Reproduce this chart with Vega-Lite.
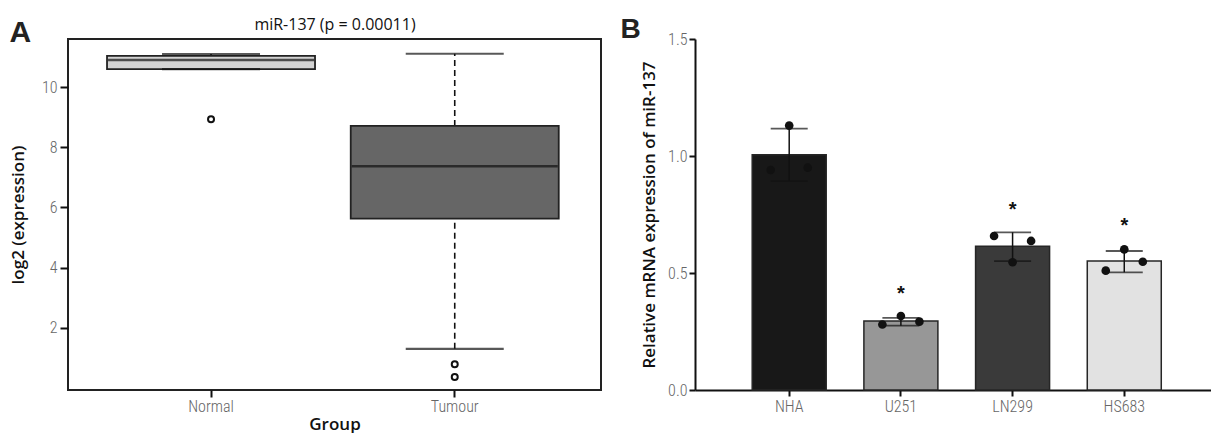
{
  "$schema": "https://vega.github.io/schema/vega-lite/v6.json",
  "padding": {"left": 8, "top": 15, "right": 0, "bottom": 0},
  "bounds": "flush",
  "spacing": 94,
  "resolve": {"scale": {"color": "independent"}},
  "config": {
    "font": "Open Sans",
    "view": {"stroke": "#222", "strokeWidth": 2},
    "axis": {
      "grid": false,
      "labelFont": "Liberation Sans Narrow, Roboto Condensed, Roboto",
      "labelColor": "#666",
      "labelFontSize": 16,
      "labelFontWeight": 300,
      "tickColor": "#111",
      "tickWidth": 2,
      "domainColor": "#111",
      "domainWidth": 2,
      "titleFont": "Open Sans",
      "titleFontWeight": 600,
      "titleFontSize": 17,
      "titleColor": "#111"
    }
  },
  "datasets": {
    "boxes": [
      {"group": "Normal", "lower": 10.6, "q1": 10.6, "median": 10.9, "q3": 11.04, "upper": 11.1},
      {"group": "Tumour", "lower": 1.3, "q1": 5.63, "median": 7.37, "q3": 8.71, "upper": 11.11}
    ],
    "outliers": [
      {"group": "Normal", "value": 8.93},
      {"group": "Tumour", "value": 0.79},
      {"group": "Tumour", "value": 0.36}
    ],
    "bars": [
      {"line": "NHA", "mean": 1.005, "lo": 0.893, "hi": 1.117},
      {"line": "U251", "mean": 0.295, "lo": 0.275, "hi": 0.308},
      {"line": "LN299", "mean": 0.614, "lo": 0.551, "hi": 0.674},
      {"line": "HS683", "mean": 0.551, "lo": 0.503, "hi": 0.594}
    ],
    "dots": [
      {"line": "NHA", "rep": 1, "value": 0.94},
      {"line": "NHA", "rep": 2, "value": 1.13},
      {"line": "NHA", "rep": 3, "value": 0.95},
      {"line": "U251", "rep": 1, "value": 0.28},
      {"line": "U251", "rep": 2, "value": 0.316},
      {"line": "U251", "rep": 3, "value": 0.292},
      {"line": "LN299", "rep": 1, "value": 0.658},
      {"line": "LN299", "rep": 2, "value": 0.546},
      {"line": "LN299", "rep": 3, "value": 0.637},
      {"line": "HS683", "rep": 1, "value": 0.51},
      {"line": "HS683", "rep": 2, "value": 0.601},
      {"line": "HS683", "rep": 3, "value": 0.548}
    ],
    "stars": [
      {"line": "U251", "pos": 0.41},
      {"line": "LN299", "pos": 0.77},
      {"line": "HS683", "pos": 0.70}
    ]
  },
  "hconcat": [
    {
      "width": 533,
      "height": 351,
      "title": {"text": "A", "anchor": "start", "frame": "bounds", "font": "Liberation Sans", "fontSize": 30, "fontWeight": "bold", "color": "#222", "offset": -32},
      "resolve": {"axis": {"x": "independent"}},
      "layer": [
        {
          "data": {"name": "boxes"},
          "mark": {"type": "rule", "stroke": "#111", "strokeWidth": 1.6, "strokeDash": [6, 4]},
          "encoding": {
            "x": {"field": "group", "type": "nominal", "sort": null,
                  "scale": {"type": "band", "paddingInner": 0.145, "paddingOuter": 0.166, "align": 0.48},
                  "axis": {"title": "Group", "domain": false, "tickSize": 7, "labelAngle": 0, "labelPadding": 1, "titlePadding": 2}},
            "y": {"field": "lower", "type": "quantitative",
                  "scale": {"domain": [-0.07, 11.6], "nice": false, "zero": false},
                  "axis": {"title": "log2 (expression)", "values": [2, 4, 6, 8, 10], "domain": false, "tickSize": 8, "labelPadding": 3, "titlePadding": 14}},
            "y2": {"field": "q1"}
          }
        },
        {
          "data": {"name": "boxes"},
          "mark": {"type": "rule", "stroke": "#111", "strokeWidth": 1.6, "strokeDash": [6, 4]},
          "encoding": {
            "x": {"field": "group", "type": "nominal", "sort": null, "axis": null},
            "y": {"field": "q3", "type": "quantitative", "scale": {"domain": [-0.07, 11.6], "nice": false, "zero": false}},
            "y2": {"field": "upper"}
          }
        },
        {
          "data": {"name": "boxes"},
          "mark": {"type": "bar", "stroke": "#222", "strokeWidth": 1.8, "width": 208},
          "encoding": {
            "x": {"field": "group", "type": "nominal", "sort": null, "axis": null},
            "y": {"field": "q1", "type": "quantitative", "scale": {"domain": [-0.07, 11.6], "nice": false, "zero": false}},
            "y2": {"field": "q3"},
            "color": {"field": "group", "type": "nominal", "sort": null, "scale": {"domain": ["Normal", "Tumour"], "range": ["#d3d3d3", "#666666"]}, "legend": null}
          }
        },
        {
          "data": {"name": "boxes"},
          "mark": {"type": "tick", "color": "#111", "size": 206, "thickness": 2.5},
          "encoding": {
            "x": {"field": "group", "type": "nominal", "sort": null,
                  "axis": {"orient": "top", "title": "miR-137 (p = 0.00011)", "labels": false, "ticks": false, "domain": false, "titlePadding": 7, "titleFontWeight": 500, "titleFontSize": 16}},
            "y": {"field": "median", "type": "quantitative", "scale": {"domain": [-0.07, 11.6], "nice": false, "zero": false}}
          }
        },
        {
          "data": {"name": "boxes"},
          "mark": {"type": "tick", "color": "#111", "size": 98, "thickness": 2.2},
          "encoding": {
            "x": {"field": "group", "type": "nominal", "sort": null, "axis": null},
            "y": {"field": "upper", "type": "quantitative", "scale": {"domain": [-0.07, 11.6], "nice": false, "zero": false}}
          }
        },
        {
          "data": {"name": "boxes"},
          "mark": {"type": "tick", "color": "#111", "size": 98, "thickness": 2.2},
          "encoding": {
            "x": {"field": "group", "type": "nominal", "sort": null, "axis": null},
            "y": {"field": "lower", "type": "quantitative", "scale": {"domain": [-0.07, 11.6], "nice": false, "zero": false}}
          }
        },
        {
          "data": {"name": "outliers"},
          "mark": {"type": "point", "shape": "circle", "filled": false, "stroke": "#111", "strokeWidth": 2, "size": 36, "opacity": 1},
          "encoding": {
            "x": {"field": "group", "type": "nominal", "sort": null, "axis": null},
            "y": {"field": "value", "type": "quantitative", "scale": {"domain": [-0.07, 11.6], "nice": false, "zero": false}}
          }
        }
      ]
    },
    {
      "width": 517,
      "height": 351,
      "view": {"stroke": null},
      "title": {"text": "B", "anchor": "start", "frame": "bounds", "font": "Liberation Sans", "fontSize": 28, "fontWeight": "bold", "color": "#222", "offset": -13, "dx": -20},
      "layer": [
        {
          "data": {"name": "bars"},
          "mark": {"type": "bar", "stroke": "#262626", "strokeWidth": 1.5, "width": 74},
          "encoding": {
            "x": {"field": "line", "type": "nominal", "sort": ["NHA", "U251", "LN299", "HS683"],
                  "scale": {"type": "band", "paddingInner": 0.337, "paddingOuter": 0.483, "align": 0.53},
                  "axis": {"title": null, "tickSize": 6, "labelAngle": 0, "labelPadding": 2}},
            "y": {"field": "mean", "type": "quantitative",
                  "scale": {"domain": [0, 1.5], "nice": false},
                  "axis": {"title": "Relative mRNA expression of miR-137", "values": [0, 0.5, 1, 1.5], "format": ".1f", "tickSize": 6, "labelPadding": 2, "titlePadding": 9}},
            "color": {"field": "line", "type": "nominal",
                      "scale": {"domain": ["NHA", "U251", "LN299", "HS683"], "range": ["#181818", "#979797", "#3a3a3a", "#e2e2e2"]}, "legend": null}
          }
        },
        {
          "data": {"name": "bars"},
          "mark": {"type": "rule", "stroke": "#111", "strokeWidth": 1.5},
          "encoding": {
            "x": {"field": "line", "type": "nominal", "sort": ["NHA", "U251", "LN299", "HS683"]},
            "y": {"field": "lo", "type": "quantitative"},
            "y2": {"field": "hi"}
          }
        },
        {
          "data": {"name": "bars"},
          "mark": {"type": "tick", "color": "#111", "size": 37, "thickness": 1.8},
          "encoding": {
            "x": {"field": "line", "type": "nominal", "sort": ["NHA", "U251", "LN299", "HS683"]},
            "y": {"field": "hi", "type": "quantitative"}
          }
        },
        {
          "data": {"name": "bars"},
          "mark": {"type": "tick", "color": "#111", "size": 37, "thickness": 1.8},
          "encoding": {
            "x": {"field": "line", "type": "nominal", "sort": ["NHA", "U251", "LN299", "HS683"]},
            "y": {"field": "lo", "type": "quantitative"}
          }
        },
        {
          "data": {"name": "dots"},
          "mark": {"type": "point", "shape": "circle", "filled": true, "color": "#111", "size": 75, "opacity": 1},
          "encoding": {
            "x": {"field": "line", "type": "nominal", "sort": ["NHA", "U251", "LN299", "HS683"]},
            "xOffset": {"field": "rep", "type": "nominal", "scale": {"paddingInner": 0, "paddingOuter": 1}},
            "y": {"field": "value", "type": "quantitative"}
          }
        },
        {
          "data": {"name": "stars"},
          "mark": {"type": "text", "text": "*", "font": "Liberation Sans", "fontSize": 20, "fontWeight": "bold", "color": "#111", "baseline": "middle", "dy": 0},
          "encoding": {
            "x": {"field": "line", "type": "nominal", "sort": ["NHA", "U251", "LN299", "HS683"]},
            "y": {"field": "pos", "type": "quantitative"}
          }
        },
        {
          "mark": {"type": "rule", "stroke": "#111", "strokeWidth": 2},
          "encoding": {"y": {"datum": 1.5}}
        }
      ]
    }
  ]
}
